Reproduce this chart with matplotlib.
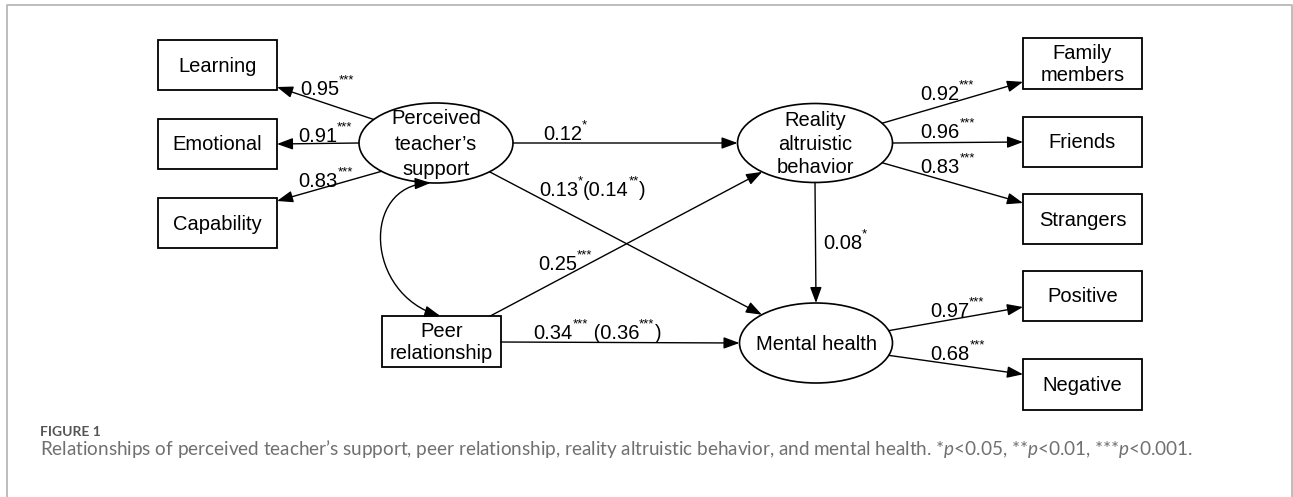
import matplotlib
matplotlib.use("Agg")
import matplotlib.pyplot as plt
from matplotlib.patches import Ellipse, Rectangle, FancyArrowPatch
from matplotlib.path import Path
import numpy as np

plt.rcParams['font.family'] = ['Liberation Sans', 'DejaVu Sans']
plt.rcParams['mathtext.fontset'] = 'custom'
plt.rcParams['mathtext.rm'] = 'Lato'
plt.rcParams['mathtext.it'] = 'Lato:italic'

# ---------------- data ----------------
latent_names = {"PTS": "Perceived\nteacher\u2019s\nsupport",
                "RAB": "Reality\naltruistic\nbehavior",
                "MH": "Mental health"}
observed_names = {"PR": "Peer\nrelationship"}

pts_indicators = ["Learning", "Emotional", "Capability"]
pts_loadings = [0.95, 0.91, 0.83]
pts_stars = ["***", "***", "***"]

rab_indicators = ["Family\nmembers", "Friends", "Strangers"]
rab_loadings = [0.92, 0.96, 0.83]
rab_stars = ["***", "***", "***"]

mh_indicators = ["Positive", "Negative"]
mh_loadings = [0.97, 0.68]
mh_stars = ["***", "***"]

path_from = ["PTS", "PTS", "PR", "PR", "RAB"]
path_to = ["RAB", "MH", "RAB", "MH", "MH"]
path_coef = [0.12, 0.13, 0.25, 0.34, 0.08]
path_stars = ["*", "*", "***", "***", "*"]
path_total = [None, 0.14, None, 0.36, None]
path_total_stars = [None, "**", None, "***", None]
path_sep = ["", "", "", " ", ""]

caption_label = "FIGURE 1"
caption_text = ("Relationships of perceived teacher\u2019s support, peer relationship, "
                "reality altruistic behavior, and mental health. "
                "*$\\mathit{p}$<0.05, **$\\mathit{p}$<0.01, ***$\\mathit{p}$<0.001.")

# ---------------- layout ----------------
W, H = 1293, 497
fig = plt.figure(figsize=(W / 100, H / 100), dpi=100)
ax = fig.add_axes([0, 0, 1, 1])
ax.set_xlim(0, W)
ax.set_ylim(H, 0)
ax.axis('off')
renderer = fig.canvas.get_renderer()

ellipses = {"PTS": (436, 143, 154, 80), "RAB": (815, 143, 155, 79), "MH": (816, 343, 153, 80)}
ellipse_ls = {"PTS": 1.42, "RAB": 1.3, "MH": 1.2}
BW = 119
boxes = {"Learning": (158, 40, BW, 50), "Emotional": (158, 119, BW, 50),
         "Capability": (158, 198, BW, 50),
         "Family\nmembers": (1023, 38, BW, 51), "Friends": (1023, 117, BW, 50),
         "Strangers": (1023, 194, BW, 50), "Positive": (1023, 271, BW, 50),
         "Negative": (1023, 359, BW, 51), "PR": (382, 316, BW, 51)}

FS_NODE = 14.5
FS_COEF = 14.5
FS_SUP = 9.5


def eanchor(key, deg):
    cx, cy, w, h = ellipses[key]
    t = np.deg2rad(deg)
    return (cx + w / 2 * np.cos(t), cy + h / 2 * np.sin(t))


def banchor(key, fx, fy):
    x0, y0, w, h = boxes[key]
    return (x0 + fx * w, y0 + fy * h)


def anchor(key, a):
    if key in ellipses:
        return eanchor(key, a)
    return banchor(key, *a)


def arrow(p0=None, p1=None, both=False, path=None):
    style = ('<|-|>' if both else '-|>') + ',head_length=0.6,head_width=0.22'
    kw = dict(arrowstyle=style, mutation_scale=16, color='black', lw=1.0, zorder=3)
    if path is not None:
        a = FancyArrowPatch(path=path, **kw)
    else:
        a = FancyArrowPatch(p0, p1, shrinkA=0, shrinkB=0, **kw)
    ax.add_patch(a)


def rich(x, cy, parts):
    base = cy + 7
    cx = x
    for s, sup in parts:
        if not s:
            continue
        if sup:
            t = ax.text(cx, base - 12, s, fontsize=FS_SUP, va='baseline', ha='left', zorder=5)
        else:
            t = ax.text(cx, base, s, fontsize=FS_COEF, va='baseline', ha='left', zorder=5)
        cx += t.get_window_extent(renderer).width


# nodes
for k, (cx, cy, w, h) in ellipses.items():
    ax.add_patch(Ellipse((cx, cy), w, h, fc='white', ec='black', lw=1.2, zorder=2))
    ax.text(cx, cy + 1, latent_names[k], ha='center', va='center', fontsize=FS_NODE,
            linespacing=ellipse_ls[k], zorder=4)
for k, (x0, y0, w, h) in boxes.items():
    ax.add_patch(Rectangle((x0, y0), w, h, fc='white', ec='black', lw=1.3, zorder=2))
    label = observed_names.get(k, k)
    ax.text(x0 + w / 2, y0 + h / 2 + 1, label, ha='center', va='center', fontsize=FS_NODE,
            linespacing=1.22, zorder=4)

# measurement arrows
pts_src = [-144, 180, 135]
pts_dst = [(1, 0.94), (1, 0.5), (1, 0.06)]
pts_lab = [(300, 88), (298, 135), (298, 180)]
for name, v, st, a, b, lp in zip(pts_indicators, pts_loadings, pts_stars, pts_src, pts_dst, pts_lab):
    arrow(anchor("PTS", a), anchor(name, b))
    rich(lp[0], lp[1], [(f"{v:.2f}", False), (st, True)])

rab_src = [-30, 0, 30]
rab_dst = [(0, 0.86), (0, 0.5), (0, 0.18)]
rab_lab = [(920, 93), (920, 131), (920, 166)]
for name, v, st, a, b, lp in zip(rab_indicators, rab_loadings, rab_stars, rab_src, rab_dst, rab_lab):
    arrow(anchor("RAB", a), anchor(name, b))
    rich(lp[0], lp[1], [(f"{v:.2f}", False), (st, True)])

mh_src = [-18, 18]
mh_dst = [(0, 0.72), (0, 0.3)]
mh_lab = [(930, 310), (930, 353)]
for name, v, st, a, b, lp in zip(mh_indicators, mh_loadings, mh_stars, mh_src, mh_dst, mh_lab):
    arrow(anchor("MH", a), anchor(name, b))
    rich(lp[0], lp[1], [(f"{v:.2f}", False), (st, True)])

# structural paths
src_anc = [0, 46, (0.91, 0.0), (1.0, 0.51), 90]
dst_anc = [180, -135, 133, 180, -90]
path_lab = [(543, 133), (539, 189), (538, 263), (533, 332), (823, 242)]
for f, t, c, st, tot, tst, sep, a, b, lp in zip(path_from, path_to, path_coef, path_stars,
                                                 path_total, path_total_stars, path_sep,
                                                 src_anc, dst_anc, path_lab):
    arrow(anchor(f, a), anchor(t, b))
    parts = [(f"{c:.2f}", False), (st, True)]
    if tot is not None:
        parts += [(sep + f"({tot:.2f}", False), (tst, True), (")", False)]
    rich(lp[0], lp[1], parts)

# covariance (curved double arrow)
p0 = eanchor("PTS", 94)
p3 = banchor("PR", 0.49, 0.0)
cov = Path([p0, (p0[0] - 70, p0[1] + 3), (p3[0] - 75, p3[1] - 22), p3],
           [Path.MOVETO, Path.CURVE4, Path.CURVE4, Path.CURVE4])
arrow(path=cov, both=True)

# caption
ax.text(40, 432, caption_label, fontfamily='Lato', fontweight='bold', fontsize=10,
        color='#555555', va='center', ha='left')
ax.text(40, 449, caption_text, fontfamily='Lato', fontsize=13.55, color='#707070',
        va='center', ha='left')

# frame (open at bottom)
ax.plot([6.5, 6.5, 1292, 1292], [H, 4.5, 4.5, H], color='#b8b8b8', lw=1.3,
        clip_on=False, zorder=1)

fig.savefig("out.png", dpi=100)
